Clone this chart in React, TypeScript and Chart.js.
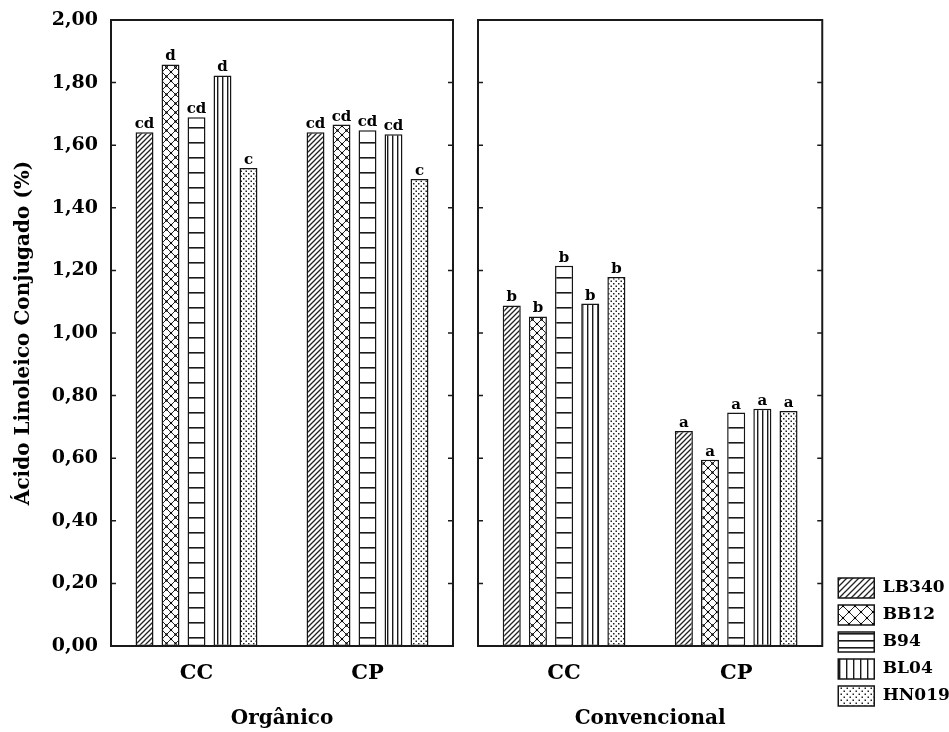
import React, { useEffect, useRef } from 'react';
import { Chart, registerables } from 'chart.js';

Chart.register(...registerables);

// ---------- data ----------
const categories = ['CC', 'CP'];
const seriesNames = ['LB340', 'BB12', 'B94', 'BL04', 'HN019'];
const panelTitles = ['Orgânico', 'Convencional'];
const yAxisTitle = 'Ácido Linoleico Conjugado (%)';
const yMin = 0;
const yMax = 2;
const yStep = 0.2;

// Orgânico panel (values for CC, CP)
const orgLB340 = [1.641, 1.641];
const orgBB12 = [1.858, 1.666];
const orgB94 = [1.689, 1.648];
const orgBL04 = [1.823, 1.635];
const orgHN019 = [1.527, 1.492];

// Convencional panel (values for CC, CP)
const convLB340 = [1.088, 0.687];
const convBB12 = [1.053, 0.595];
const convB94 = [1.215, 0.746];
const convBL04 = [1.094, 0.758];
const convHN019 = [1.179, 0.751];

// significance letters (per series, for CC, CP)
const orgLetters = [
  ['cd', 'cd'],
  ['d', 'cd'],
  ['cd', 'cd'],
  ['d', 'cd'],
  ['c', 'c'],
];
const convLetters = [
  ['b', 'a'],
  ['b', 'a'],
  ['b', 'a'],
  ['b', 'a'],
  ['b', 'a'],
];

const FONT = '"DejaVu Serif", "Liberation Serif", serif';

// ---------- patterns ----------
function makePattern(w: number, h: number, draw: (c: CanvasRenderingContext2D) => void) {
  const cv = document.createElement('canvas');
  cv.width = w;
  cv.height = h;
  const c = cv.getContext('2d') as CanvasRenderingContext2D;
  c.fillStyle = '#ffffff';
  c.fillRect(0, 0, w, h);
  draw(c);
  return c.createPattern(cv, 'repeat') as CanvasPattern;
}

function diagonal(size: number) {
  return makePattern(size, size, (c) => {
    c.strokeStyle = '#222';
    c.lineWidth = 1.3;
    c.beginPath();
    c.moveTo(0, size);
    c.lineTo(size, 0);
    c.moveTo(-2, 2);
    c.lineTo(2, -2);
    c.moveTo(size - 2, size + 2);
    c.lineTo(size + 2, size - 2);
    c.stroke();
  });
}

function crosshatch(size: number) {
  return makePattern(size, size, (c) => {
    c.strokeStyle = '#222';
    c.lineWidth = 1;
    c.beginPath();
    c.moveTo(0, 0);
    c.lineTo(size, size);
    c.moveTo(size, 0);
    c.lineTo(0, size);
    c.stroke();
    c.fillStyle = '#000';
    const d = 2.2;
    const m = size / 2;
    c.fillRect(m - d / 2, m - d / 2, d, d);
    c.fillRect(-d / 2, -d / 2, d, d);
    c.fillRect(size - d / 2, -d / 2, d, d);
    c.fillRect(-d / 2, size - d / 2, d, d);
    c.fillRect(size - d / 2, size - d / 2, d, d);
  });
}

function horizontal(gap: number) {
  return makePattern(4, gap, (c) => {
    c.fillStyle = '#1a1a1a';
    c.fillRect(0, Math.floor(gap / 2), 4, 1.6);
  });
}

function vertical(gap: number) {
  return makePattern(gap, 4, (c) => {
    c.fillStyle = '#1a1a1a';
    c.fillRect(Math.floor(gap / 2), 0, 1.4, 4);
  });
}

function dots(size: number) {
  return makePattern(size, size, (c) => {
    c.fillStyle = '#222';
    c.fillRect(0.5, 0.5, 1.5, 1.5);
    c.fillRect(size / 2 + 0.5, size / 2 + 0.5, 1.5, 1.5);
  });
}

// ---------- plugins ----------
function lettersPlugin(letters: string[][]) {
  return {
    id: 'barLetters',
    afterDatasetsDraw(chart: any) {
      const ctx = chart.ctx;
      ctx.save();
      ctx.font = `bold 15px ${FONT}`;
      ctx.fillStyle = '#000';
      ctx.textAlign = 'center';
      ctx.textBaseline = 'alphabetic';
      chart.data.datasets.forEach((_ds: any, di: number) => {
        const meta = chart.getDatasetMeta(di);
        meta.data.forEach((el: any, i: number) => {
          ctx.fillText(letters[di][i], el.x, el.y - 4);
        });
      });
      ctx.restore();
    },
  };
}

const framePlugin = {
  id: 'frame',
  afterDraw(chart: any) {
    const { left, top, right, bottom } = chart.chartArea;
    const ctx = chart.ctx;
    ctx.save();
    ctx.strokeStyle = '#1a1a1a';
    ctx.lineWidth = 2;
    ctx.strokeRect(left, top, right - left, bottom - top);
    const ys = chart.scales.y;
    ctx.lineWidth = 1.5;
    ys.ticks.forEach((t: any) => {
      const py = ys.getPixelForValue(t.value);
      ctx.beginPath();
      ctx.moveTo(left, py);
      ctx.lineTo(left + 5, py);
      ctx.moveTo(right, py);
      ctx.lineTo(right - 5, py);
      ctx.stroke();
    });
    ctx.restore();
  },
};

function makeDatasets(values: number[][], patterns: CanvasPattern[]) {
  return seriesNames.map((name, i) => ({
    label: name,
    data: values[i],
    backgroundColor: patterns[i],
    borderColor: '#151515',
    borderWidth: 1.5,
    borderSkipped: false,
    categoryPercentage: 0.76,
    barPercentage: 0.69,
  }));
}

function xScale(title: string) {
  return {
    type: 'category',
    grid: { display: false },
    border: { display: false },
    ticks: {
      color: '#000',
      font: { family: FONT, size: 21, weight: 'bold' },
      padding: 7,
      maxRotation: 0,
    },
    title: {
      display: true,
      text: title,
      color: '#000',
      font: { family: FONT, size: 20, weight: 'bold' },
      padding: { top: 0, bottom: -18 },
    },
    afterFit: (s: any) => {
      s.height = 67;
    },
  };
}

export default function App() {
  const leftRef = useRef<HTMLCanvasElement | null>(null);
  const rightRef = useRef<HTMLCanvasElement | null>(null);

  useEffect(() => {
    const barPatterns = [diagonal(5), crosshatch(9), horizontal(15), vertical(5), dots(5)];
    const legendPatterns = [diagonal(6), crosshatch(12), horizontal(7), vertical(7), dots(6)];

    const left = new Chart(leftRef.current as HTMLCanvasElement, {
      type: 'bar',
      data: {
        labels: categories,
        datasets: makeDatasets([orgLB340, orgBB12, orgB94, orgBL04, orgHN019], barPatterns) as any,
      },
      options: {
        responsive: false,
        animation: false,
        layout: { padding: { left: 0, right: 12, top: 20, bottom: 19 } },
        plugins: { legend: { display: false }, tooltip: { enabled: false } },
        scales: {
          x: xScale(panelTitles[0]) as any,
          y: {
            type: 'linear',
            position: 'left',
            min: yMin,
            max: yMax,
            grid: { display: false },
            border: { display: false },
            ticks: {
              stepSize: yStep,
              color: '#000',
              font: { family: FONT, size: 19, weight: 'bold' },
              padding: 5,
              callback: (v: any) => Number(v).toFixed(2).replace('.', ','),
            },
            title: {
              display: true,
              text: yAxisTitle,
              color: '#000',
              font: { family: FONT, size: 20, weight: 'bold' },
              padding: { top: 12, bottom: 0 },
            },
            afterFit: (s: any) => {
              s.width = 111;
            },
          } as any,
        },
      },
      plugins: [framePlugin, lettersPlugin(orgLetters)],
    });

    const right = new Chart(rightRef.current as HTMLCanvasElement, {
      type: 'bar',
      data: {
        labels: categories,
        datasets: makeDatasets([convLB340, convBB12, convB94, convBL04, convHN019], barPatterns) as any,
      },
      options: {
        responsive: false,
        animation: false,
        layout: { padding: { left: 13, right: 0, top: 20, bottom: 19 } },
        plugins: {
          tooltip: { enabled: false },
          legend: {
            display: true,
            position: 'right',
            align: 'end',
            labels: {
              boxWidth: 36,
              boxHeight: 20,
              padding: 7,
              color: '#000',
              font: { family: FONT, size: 17, weight: 'bold' },
              generateLabels: () =>
                seriesNames.map((n, i) => ({
                  text: n,
                  fillStyle: legendPatterns[i],
                  strokeStyle: '#151515',
                  lineWidth: 1.5,
                  hidden: false,
                  datasetIndex: i,
                  fontColor: '#000',
                })),
            },
          } as any,
        },
        scales: {
          x: xScale(panelTitles[1]) as any,
          y: {
            type: 'linear',
            position: 'right',
            min: yMin,
            max: yMax,
            grid: { display: false },
            border: { display: false },
            ticks: { stepSize: yStep, display: false },
            afterFit: (s: any) => {
              s.width = 9;
            },
          } as any,
        },
      },
      plugins: [framePlugin, lettersPlugin(convLetters)],
    });

    return () => {
      left.destroy();
      right.destroy();
    };
  }, []);

  return (
    <div style={{ position: 'absolute', left: 0, top: 0, width: 949, height: 732, background: '#fff' }}>
      <canvas
        ref={leftRef}
        width={465}
        height={732}
        style={{ position: 'absolute', left: 0, top: 0, width: 465, height: 732 }}
      />
      <canvas
        ref={rightRef}
        width={484}
        height={732}
        style={{ position: 'absolute', left: 465, top: 0, width: 484, height: 732 }}
      />
    </div>
  );
}
